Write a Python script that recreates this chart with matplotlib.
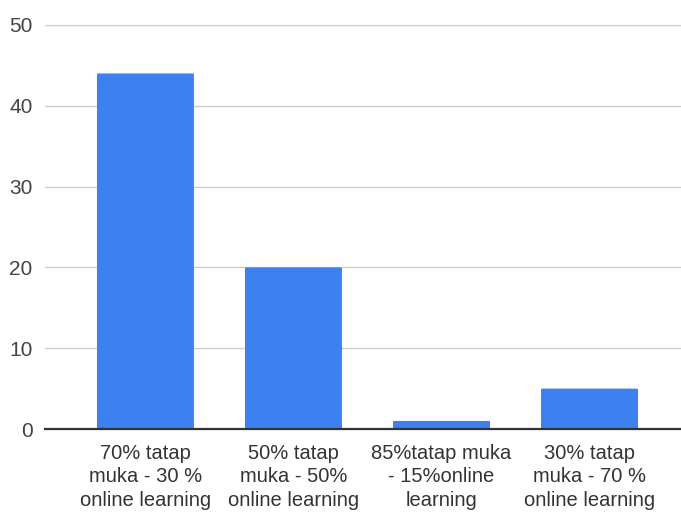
import matplotlib
matplotlib.use("Agg")
import matplotlib.pyplot as plt
from matplotlib.patches import FancyBboxPatch

categories = [
    "70% tatap\nmuka - 30 %\nonline learning",
    "50% tatap\nmuka - 50%\nonline learning",
    "85%tatap muka\n- 15%online\nlearning",
    "30% tatap\nmuka - 70 %\nonline learning",
]
values = [44, 20, 1, 5]
y_ticks = [0, 10, 20, 30, 40, 50]

plt.rcParams["font.family"] = ["Liberation Sans", "DejaVu Sans"]

fig = plt.figure(figsize=(6.81, 5.13), dpi=100)
ax = fig.add_axes([0.066, 0.1637, 0.934, 0.7876])

bar_color = "#3d80f0"
x = list(range(len(categories)))
bars = ax.bar(x, values, width=0.655, color=bar_color, zorder=3)

# soften the top corners of each bar slightly
for b in bars:
    b.set_visible(False)
    fx, fy = b.get_x(), b.get_y()
    w, h = b.get_width(), b.get_height()
    patch = FancyBboxPatch((fx, fy), w, h,
                           boxstyle="round,pad=0,rounding_size=0.012",
                           mutation_aspect=4.0,
                           facecolor=bar_color, edgecolor="none", zorder=3)
    ax.add_patch(patch)

ax.set_xlim(-0.679, 3.618)
ax.set_ylim(0, 50)
ax.set_yticks(y_ticks)
ax.set_xticks(x)
ax.set_xticklabels(categories, fontsize=14.5, color="#333333", linespacing=1.28)
ax.tick_params(axis="y", labelsize=15, labelcolor="#444444", length=0, pad=9)
ax.tick_params(axis="x", length=0, pad=11)

ax.grid(axis="y", color="#cccccc", linewidth=1.0, zorder=0)
for s in ["top", "right", "left"]:
    ax.spines[s].set_visible(False)
ax.spines["bottom"].set_color("#333333")
ax.spines["bottom"].set_linewidth(1.6)
ax.spines["bottom"].set_zorder(4)

fig.savefig("out.png", dpi=100)
